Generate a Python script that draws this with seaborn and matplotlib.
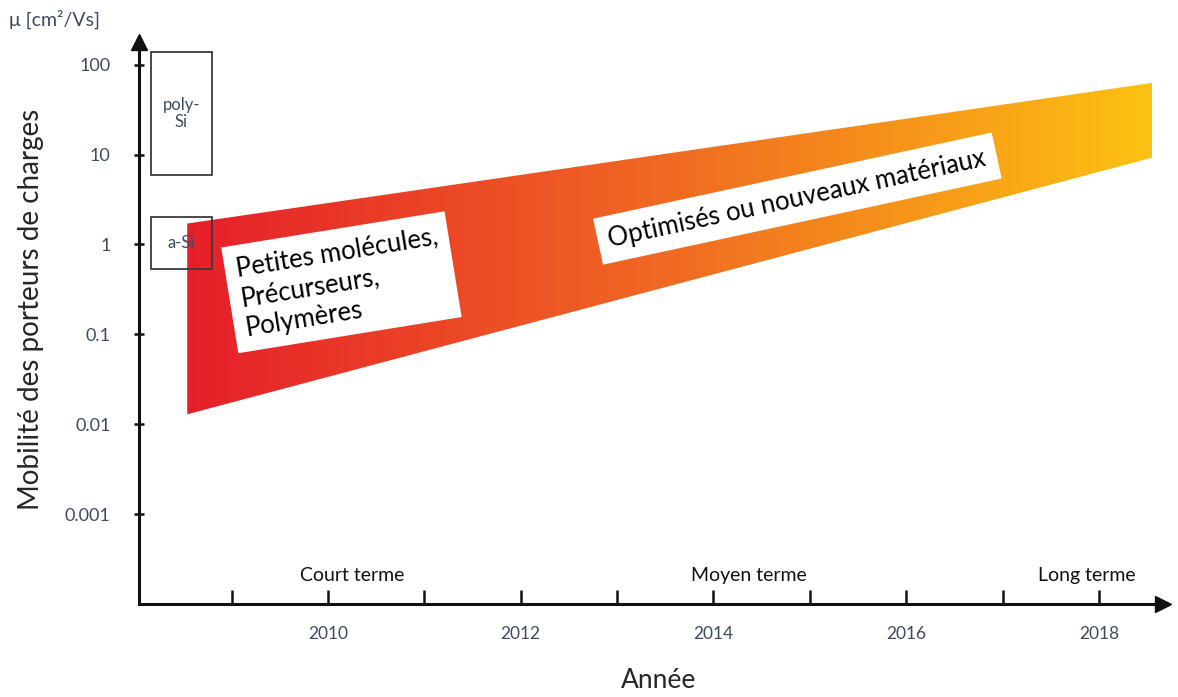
"""Mobilité des porteurs de charges : feuille de route (semi-conducteurs organiques)."""

import numpy as np
import matplotlib
matplotlib.use("Agg")
import matplotlib.pyplot as plt
from matplotlib.patches import Polygon, Rectangle
import seaborn as sns

# --- data ---
band_years = [2008.54, 2018.56]      # left / right edge of the band
band_low = [0.0129, 9.3]             # lower edge of mobility band
band_high = [1.71, 63.0]             # upper edge of mobility band

ref_names = ["poly-\nSi", "a-Si"]
ref_years = [2008.16, 2008.80]       # x-extent of the reference boxes
ref_low = [6.0, 0.54]
ref_high = [139.0, 2.0]

y_ticks = [0.001, 0.01, 0.1, 1, 10, 100]
y_labels = ["0.001", "0.01", "0.1", "1", "10", "100"]
x_ticks = list(range(2009, 2019))
x_labels = ["", "2010", "", "2012", "", "2014", "", "2016", "", "2018"]

horizons = ["Court terme", "Moyen terme", "Long terme"]
horizon_years = [2010.25, 2014.37, 2017.87]

band_texts = ["Petites molécules,\nPrécurseurs,\nPolymères", "Optimisés ou nouveaux matériaux"]
band_text_pos = [(2010.14, 0.38), (2014.87, 3.24)]
band_text_rot = [9.2, 12.2]

sns.set_theme(style="white")
plt.rcParams["font.family"] = ["Lato", "DejaVu Sans"]

TICK_COLOR = "#3d4a63"
cmap = sns.blend_palette(["#e51f2a", "#f06a22", "#fdc212"], as_cmap=True)

fig = plt.figure(figsize=(11.78, 6.97), dpi=100)
ax = fig.add_axes([0.118, 0.1334, 0.869, 0.806])
ax.set_yscale("log")
ax.set_xlim(2008.04, 2018.66)
ax.set_ylim(1e-4, 10 ** 2.25)

# gradient band, clipped to the band polygon
verts = [(band_years[0], band_low[0]), (band_years[1], band_low[1]),
         (band_years[1], band_high[1]), (band_years[0], band_high[0])]
band = Polygon(verts, closed=True, facecolor="none", edgecolor="none")
ax.add_patch(band)
grad = np.linspace(0, 1, 512).reshape(1, -1)
im = ax.imshow(grad, cmap=cmap, aspect="auto", interpolation="bilinear",
               extent=[band_years[0], band_years[1], 1e-4, 300], zorder=1)
im.set_clip_path(band)

# reference boxes (poly-Si, a-Si)
for name, lo, hi in zip(ref_names, ref_low, ref_high):
    ax.add_patch(Rectangle((ref_years[0], lo), ref_years[1] - ref_years[0], hi - lo,
                           facecolor="none", edgecolor="#3a3a3a", lw=1.3, zorder=3))
    ax.text(np.mean(ref_years), np.sqrt(lo * hi), name, ha="center", va="center",
            fontsize=12, color=TICK_COLOR, linespacing=1.05, zorder=4)

# white labels on the band
for txt, (x, y), rot in zip(band_texts, band_text_pos, band_text_rot):
    ax.text(x, y, txt, ha="center", va="center", multialignment="left",
            rotation=rot, rotation_mode="anchor", fontsize=18.5,
            color="black", linespacing=1.25, zorder=5,
            bbox=dict(facecolor="white", edgecolor="none", pad=8))

# term horizons
for name, yr in zip(horizons, horizon_years):
    ax.text(yr, 2.1e-4, name, ha="center", va="center", fontsize=14, color="#111111")

# axes as arrows
for side in ["top", "right"]:
    ax.spines[side].set_visible(False)
for side in ["left", "bottom"]:
    ax.spines[side].set_color("#111111")
    ax.spines[side].set_linewidth(2.2)
ax.plot(1, 0, ">", color="#111111", ms=11, transform=ax.transAxes, clip_on=False)
ax.plot(0, 1, "^", color="#111111", ms=11, transform=ax.transAxes, clip_on=False)

ax.set_yticks(y_ticks)
ax.set_yticklabels(y_labels)
ax.yaxis.set_minor_locator(matplotlib.ticker.NullLocator())
ax.tick_params(axis="y", direction="inout", length=7, width=1.8, color="#111111",
               pad=17, labelsize=13, labelcolor=TICK_COLOR, left=True)
ax.set_xticks(x_ticks)
ax.set_xticklabels(x_labels)
ax.tick_params(axis="x", direction="in", length=10, width=1.8, color="#111111",
               pad=16, labelsize=12.5, labelcolor=TICK_COLOR, bottom=True)

ax.set_xlabel("Année", fontsize=19)
ax.set_ylabel("Mobilité des porteurs de charges", fontsize=20)
ax.xaxis.set_label_coords(0.508, -0.113)
ax.yaxis.set_label_coords(-0.093, 0.525)
fig.text(0.008, 0.972, "μ [cm²/Vs]", fontsize=14, color=TICK_COLOR, ha="left", va="center")

fig.savefig("out.png", dpi=100)
